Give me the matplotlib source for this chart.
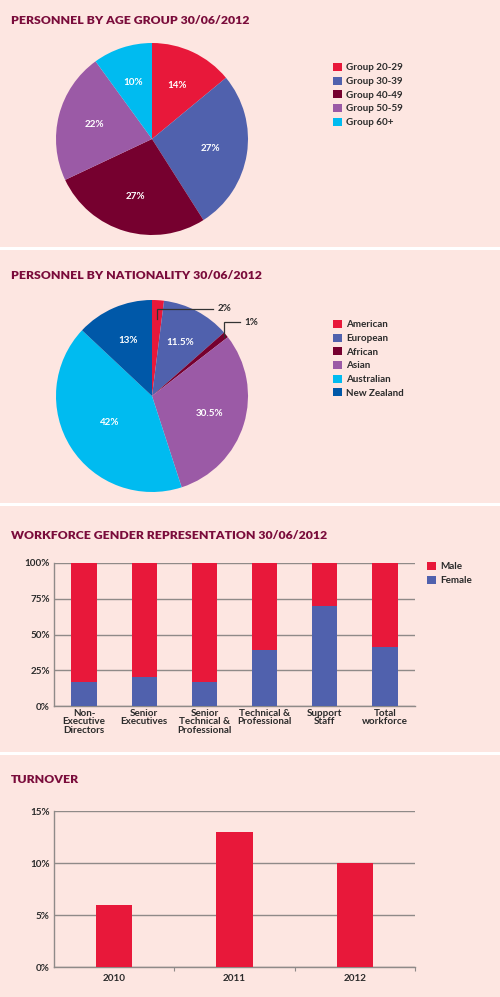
import numpy as np
import matplotlib
matplotlib.use("Agg")
import matplotlib.pyplot as plt
from matplotlib.lines import Line2D

W, H = 500, 997

# --- data ---
age_groups = ["Group 20-29", "Group 30-39", "Group 40-49", "Group 50-59", "Group 60+"]
age_share = [14, 27, 27, 22, 10]

nationalities = ["American", "European", "African", "Asian", "Australian", "New Zealand"]
nationality_share = [2, 11.5, 1, 30.5, 42, 13]

roles = ["Non-\nExecutive\nDirectors", "Senior\nExecutives", "Senior\nTechnical &\nProfessional",
         "Technical &\nProfessional", "Support\nStaff", "Total\nworkforce"]
female_pct = [17, 20, 17, 39, 70, 41]
male_pct = [83, 80, 83, 61, 30, 59]

years = ["2010", "2011", "2012"]
turnover_pct = [6, 13, 10]

# --- style ---
BG = "#fde6e1"
RED = "#e8183a"
BLUE = "#5061ad"
MAROON = "#76002f"
PURPLE = "#9b5aa6"
CYAN = "#00bbf0"
NAVY = "#0058a8"
TITLE_C = "#7a0c3b"
TEXT_C = "#2b2b2b"
GRID_C = "#8f8a88"

age_colors = [RED, BLUE, MAROON, PURPLE, CYAN]
nat_colors = [RED, BLUE, MAROON, PURPLE, CYAN, NAVY]

plt.rcParams["font.family"] = ["Lato", "DejaVu Sans"]
plt.rcParams["font.weight"] = "bold"
LBL = 7.1

fig = plt.figure(figsize=(W / 100, H / 100), dpi=100, facecolor=BG)


def px_axes(left, top, width, height):
    return fig.add_axes([left / W, 1 - (top + height) / H, width / W, height / H])


def title(text, baseline):
    fig.text(11 / W, 1 - baseline / H, text, fontsize=8.8, fontweight="heavy",
             color=TITLE_C, va="baseline", ha="left")


def legend(ax, handles, labels, left, top):
    ax.legend(handles, labels, loc="upper left", bbox_to_anchor=(left / W, 1 - top / H),
              bbox_transform=fig.transFigure, frameon=False, fontsize=LBL,
              handlelength=0.9, handleheight=0.9, handletextpad=0.4,
              labelspacing=0.42, borderpad=0, borderaxespad=0, labelcolor=TEXT_C)


def draw_pie(ax, values, colors):
    wedges, _ = ax.pie(values, colors=colors, startangle=90, counterclock=False,
                       wedgeprops=dict(linewidth=0))
    ax.set_xlim(-1, 1)
    ax.set_ylim(-1, 1)
    ax.set_aspect("equal")
    return wedges


def mid_angle(w):
    return np.deg2rad((w.theta1 + w.theta2) / 2)


# separators
for y in (248, 504, 753):
    fig.add_artist(Line2D([0, 1], [1 - y / H, 1 - y / H], color="white", lw=2.2))

# --- panel 1: age group pie ---
title("PERSONNEL BY AGE GROUP 30/06/2012", 24)
ax1 = px_axes(56, 43, 192, 192)
w1 = draw_pie(ax1, age_share, age_colors)
for w, v in zip(w1, age_share):
    a = mid_angle(w)
    ax1.text(0.62 * np.cos(a), 0.62 * np.sin(a), f"{v:g}%", color="white",
             fontsize=LBL, ha="center", va="center")
legend(ax1, w1, age_groups, 333, 63)

# --- panel 2: nationality pie ---
title("PERSONNEL BY NATIONALITY 30/06/2012", 279)
ax2 = px_axes(56, 300, 192, 192)
w2 = draw_pie(ax2, nationality_share, nat_colors)
for w, v in zip(w2, nationality_share):
    a = mid_angle(w)
    if v < 5:
        continue
    r = 0.52 if v > 40 else 0.63
    ax2.text(r * np.cos(a), r * np.sin(a), f"{v:g}%", color="white",
             fontsize=LBL, ha="center", va="center")

# leader lines for the small slices
callouts = {0: (0.80, 0.91, 0.64), 2: (0.97, 0.77, 0.92)}
for i, (r0, ytop, xend) in callouts.items():
    a = mid_angle(w2[i])
    x0, y0 = r0 * np.cos(a), r0 * np.sin(a)
    ax2.plot([x0, x0, xend], [y0, ytop, ytop], color="#333333", lw=0.9, clip_on=False,
             solid_joinstyle="miter")
    ax2.text(xend + 0.04, ytop, f"{nationality_share[i]:g}%", color=TEXT_C, fontsize=LBL,
             ha="left", va="center", clip_on=False)
legend(ax2, w2, nationalities, 333, 320)


def style_bar_axes(ax):
    for s in ("top", "right"):
        ax.spines[s].set_visible(False)
    for s in ("left", "bottom"):
        ax.spines[s].set_color(GRID_C)
        ax.spines[s].set_linewidth(1)
    ax.set_facecolor("none")
    ax.yaxis.grid(True, color=GRID_C, lw=1)
    ax.set_axisbelow(True)
    ax.tick_params(axis="y", length=0, pad=3, labelsize=LBL, labelcolor=TEXT_C)
    ax.tick_params(axis="x", which="major", length=0, labelsize=LBL, labelcolor=TEXT_C)


# --- panel 3: gender stacked bars ---
title("WORKFORCE GENDER REPRESENTATION 30/06/2012", 539)
ax3 = px_axes(54, 563, 361, 143)
x3 = np.arange(len(roles))
b_f = ax3.bar(x3, female_pct, width=0.42, color=BLUE, zorder=3)
b_m = ax3.bar(x3, male_pct, bottom=female_pct, width=0.42, color=RED, zorder=3)
ax3.set_xlim(-0.5, len(roles) - 0.5)
ax3.set_ylim(0, 100)
ax3.set_yticks([0, 25, 50, 75, 100])
ax3.set_yticklabels(["0%", "25%", "50%", "75%", "100%"])
ax3.set_xticks(x3)
ax3.set_xticklabels(roles, linespacing=0.95)
style_bar_axes(ax3)
ax3.tick_params(axis="x", pad=2)
legend(ax3, [b_m, b_f], ["Male", "Female"], 427, 562)

# --- panel 4: turnover ---
title("TURNOVER", 783)
ax4 = px_axes(54, 811, 361, 156)
x4 = np.arange(len(years))
ax4.bar(x4, turnover_pct, width=0.3, color=RED, zorder=3)
ax4.set_xlim(-0.5, len(years) - 0.5)
ax4.set_ylim(0, 15)
ax4.set_yticks([0, 5, 10, 15])
ax4.set_yticklabels(["0%", "5%", "10%", "15%"])
ax4.set_xticks(x4)
ax4.set_xticklabels(years)
ax4.set_xticks(x4 + 0.5, minor=True)
style_bar_axes(ax4)
ax4.tick_params(axis="x", which="major", pad=5)
ax4.tick_params(axis="x", which="minor", length=3, color=GRID_C, width=0.8)

fig.savefig("out.png", dpi=100, facecolor=BG)
